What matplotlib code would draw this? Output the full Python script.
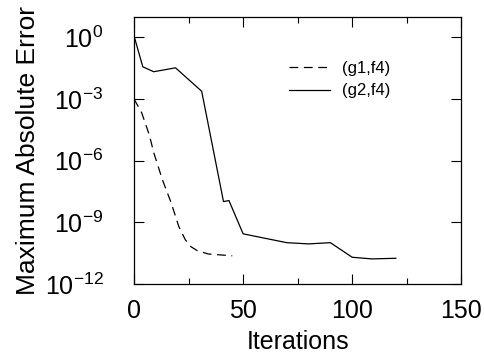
import numpy as np
import matplotlib
matplotlib.use("Agg")
import matplotlib.pyplot as plt
from matplotlib.ticker import FixedLocator, NullLocator

# ==========================
# DATA
# ==========================
g1_iter = [0, 3.5, 7, 9, 13, 17, 20.5, 23.5, 26, 29, 34, 45]
g1_log = [-3.0, -3.67, -4.75, -5.6, -6.93, -8.05, -9.2, -9.85, -10.18, -10.38, -10.54, -10.63]

g2_iter = [0, 4, 9, 19, 31, 41, 43.5, 50, 70, 80, 90, 100, 109, 120]
g2_log = [0.07, -1.43, -1.67, -1.48, -2.62, -7.99, -7.94, -9.56, -9.99, -10.05,
          -9.99, -10.70, -10.78, -10.75]

labels = ["(g1,f4)", "(g2,f4)"]

# ==========================
# STYLE
# ==========================
plt.rcParams['font.family'] = ['Liberation Sans', 'DejaVu Sans']
plt.rcParams['mathtext.fontset'] = 'custom'
plt.rcParams['mathtext.rm'] = 'Liberation Sans'
plt.rcParams['mathtext.it'] = 'Liberation Sans:italic'
plt.rcParams['mathtext.default'] = 'regular'

fig = plt.figure(figsize=(4.84, 3.59), dpi=100)
ax = fig.add_axes([0.277, 0.209, 0.676, 0.744])

ax.semilogy(g1_iter, 10.0 ** np.array(g1_log), color='black', lw=0.9,
            dashes=(7, 4.5), label=labels[0])
ax.semilogy(g2_iter, 10.0 ** np.array(g2_log), color='black', lw=0.9,
            label=labels[1])

ax.set_xlim(0, 150)
ax.set_ylim(1e-12, 1e1)

ax.yaxis.set_major_locator(FixedLocator([1e-12, 1e-9, 1e-6, 1e-3, 1e0]))
ax.yaxis.set_minor_locator(NullLocator())
ax.set_yticklabels([r'$10^{-12}$', r'$10^{-9}$', r'$10^{-6}$', r'$10^{-3}$', r'$10^{0}$'])
ax.xaxis.set_major_locator(FixedLocator([0, 50, 100, 150]))
ax.xaxis.set_minor_locator(FixedLocator([25, 75, 125]))

ax.tick_params(which='both', direction='in', top=True, right=True, width=0.8)
ax.tick_params(which='major', length=7, labelsize=18)
ax.tick_params(which='minor', length=4.5)
ax.tick_params(axis='x', which='major', pad=11)
ax.tick_params(axis='y', which='major', pad=22)
for s in ax.spines.values():
    s.set_linewidth(0.9)

ax.set_xlabel("Iterations", fontsize=18, labelpad=5)
ax.set_ylabel("Maximum Absolute Error", fontsize=19, labelpad=3)

ax.legend(loc='upper left', bbox_to_anchor=(0.473, 0.835), frameon=False,
          borderpad=0, borderaxespad=0,
          fontsize=12, handlelength=2.5, handletextpad=0.7, labelspacing=0.45)

fig.savefig("out.png", dpi=100)
